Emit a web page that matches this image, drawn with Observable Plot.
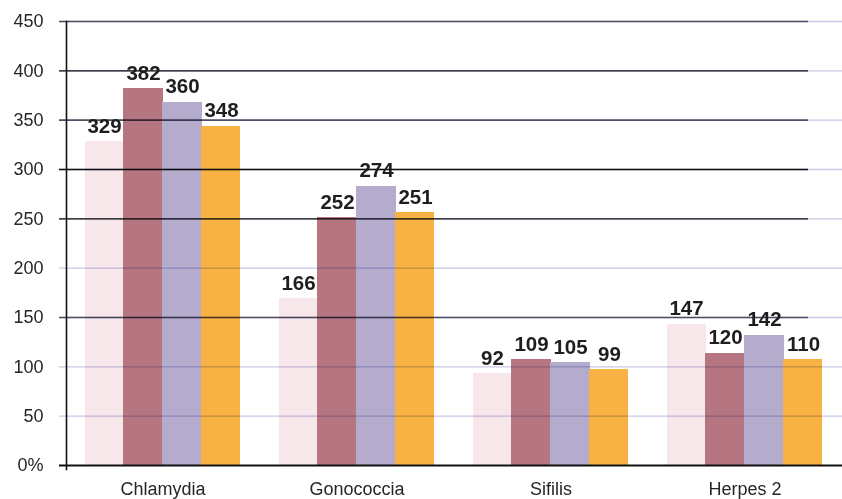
<!DOCTYPE html>
<html><head><meta charset="utf-8">
<script src="https://cdn.jsdelivr.net/npm/d3@7"></script>
<script src="https://cdn.jsdelivr.net/npm/@observablehq/plot@0.6"></script>
<style>html,body{margin:0;padding:0;background:#fff}</style>
</head><body><div id="chart"></div>
<script>
const categories = ["Chlamydia", "Gonococcia", "Sifilis", "Herpes 2"];
// bar heights as drawn
const s1Values = [328, 169, 93, 143];
const s2Values = [382, 251, 107, 114];
const s3Values = [368, 283, 104, 132];
const s4Values = [344, 256, 97, 107];
// printed data labels
const s1Labels = [329, 166, 92, 147];
const s2Labels = [382, 252, 109, 120];
const s3Labels = [360, 274, 105, 142];
const s4Labels = [348, 251, 99, 110];
const seriesColors = ["#f7e6ea", "#b57682", "#b5abcc", "#f7b243"];
const yTicks = [0, 50, 100, 150, 200, 250, 300, 350, 400, 450];
const yTickLabels = ["0%", "50", "100", "150", "200", "250", "300", "350", "400", "450"];
const darkGrid = [150, 250, 300, 350, 400, 450];
const blackGrid = [250, 300, 400];
const lightGrid = [50, 100, 150, 200, 250, 300, 350, 400, 450];

const W = 842, H = 499, ML = 66, MR = 0, MT = 21, MB = 34;
const PI = 0.2, PO = 0.09;
const step = (W - ML - MR) / (categories.length - PI + 2 * PO);
const bw = step * (1 - PI);
const sub = bw / 4;

const allValues = [s1Values, s2Values, s3Values, s4Values];
const allLabels = [s1Labels, s2Labels, s3Labels, s4Labels];
const seriesData = allValues.map((vals, s) =>
  categories.map((c, i) => ({category: c, value: vals[i], label: String(allLabels[s][i])})));

const marks = [];
seriesData.forEach((d, s) => {
  marks.push(Plot.barY(d, {x: "category", y: "value", fill: seriesColors[s], shapeRendering: "crispEdges",
    insetLeft: s === 0 ? 0 : s * sub - 1, insetRight: s === 3 ? 0 : (3 - s) * sub - 1}));
});
marks.push(Plot.ruleY(lightGrid, {stroke: "#c6cae6", strokeWidth: 1.3, insetLeft: -7, mixBlendMode: "multiply"}));
marks.push(Plot.ruleY(darkGrid.filter(v => !blackGrid.includes(v)), {stroke: "#5e5e6a", strokeWidth: 1.6, insetLeft: -7, insetRight: 34, mixBlendMode: "multiply"}));
marks.push(Plot.ruleY(blackGrid, {stroke: "#111", strokeWidth: 1.3, insetLeft: -7, insetRight: 34, mixBlendMode: "multiply"}));
marks.push(Plot.ruleY([0], {stroke: "#111", strokeWidth: 2, insetLeft: -7}));
marks.push(Plot.frame({anchor: "left", stroke: "#111", strokeWidth: 1.6, insetBottom: -4}));
seriesData.forEach((d, s) => {
  marks.push(Plot.text(d, {x: "category", y: "value", text: "label", dx: (s - 1.5) * sub, dy: -9,
    lineAnchor: "bottom", fontWeight: "bold", fontSize: 20.5, fill: "#1e1e1e"}));
});
marks.push(Plot.axisY({ticks: yTicks, tickFormat: d => yTickLabels[yTicks.indexOf(d)], tickSize: 0, tickPadding: 23, fontSize: 18, label: null}));
marks.push(Plot.axisX({tickSize: 0, tickPadding: 17, fontSize: 18, label: null}));

const chart = Plot.plot({
  width: W, height: H,
  marginLeft: ML, marginRight: MR, marginTop: MT, marginBottom: MB,
  style: {fontFamily: "'Liberation Sans', Arial, sans-serif", color: "#262626", background: "#fff"},
  x: {domain: categories, paddingInner: PI, paddingOuter: PO},
  y: {domain: [0, 450]},
  marks
});
document.getElementById("chart").appendChild(chart);
</script>
</body></html>
